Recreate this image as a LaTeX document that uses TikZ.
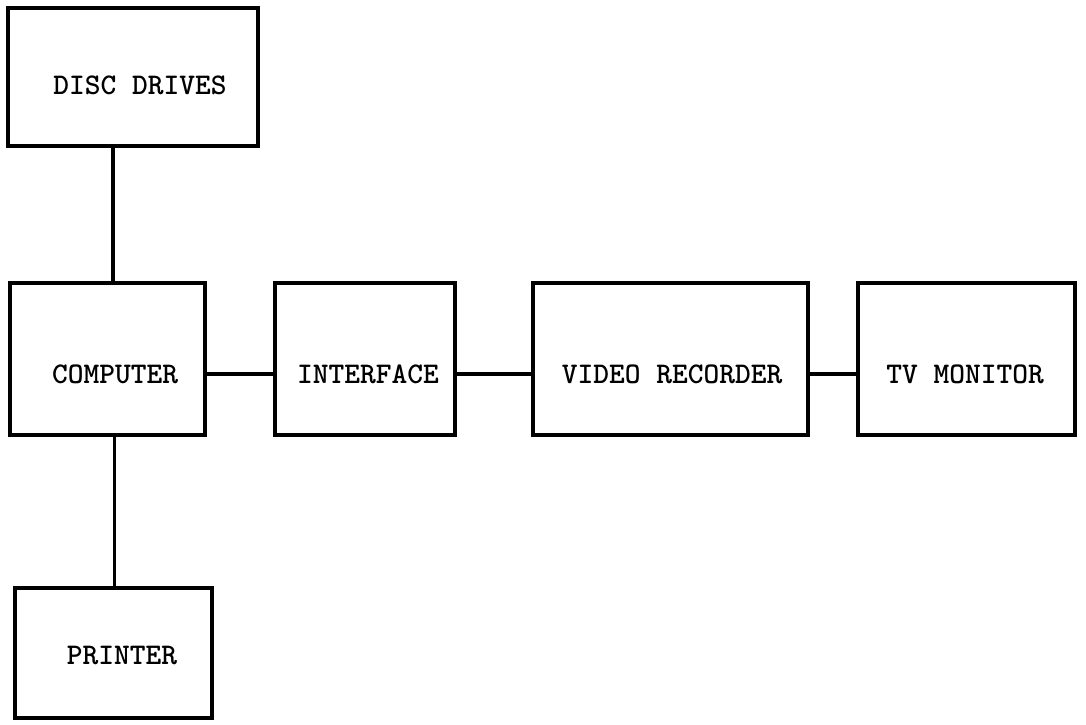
\documentclass[tikz,border=0pt]{standalone}
\usepackage{fontspec}
\begin{document}
\begin{tikzpicture}[x=1pt,y=-1pt,
  box/.style={draw=black,line width=3.4pt,inner sep=0pt,outer sep=0pt},
  lbl/.style={font=\ttfamily\bfseries\fontsize{30}{30}\selectfont,inner sep=0pt},
  wire/.style={line width=3.4pt}]
\useasboundingbox (0,0) rectangle (1086,724);
% boxes
\node[box,minimum width=250pt,minimum height=138pt] (dd) at (133,77) {};
\node[box,minimum width=195pt,minimum height=152pt] (comp) at (107.5,359) {};
\node[box,minimum width=180pt,minimum height=152pt] (int) at (365,359) {};
\node[box,minimum width=275pt,minimum height=152pt] (vr) at (670.5,359) {};
\node[box,minimum width=217pt,minimum height=152pt] (tv) at (966.5,359) {};
\node[box,minimum width=197pt,minimum height=130pt] (pr) at (113.5,653) {};
% labels
\node[lbl] (tdd) at (140,85) {DISC DRIVES};
\node[lbl] (tcomp) at (115,374) {COMPUTER};
\node[lbl] (tint) at (368,374) {INTERFACE};
\node[lbl] (tvr) at (672,374) {VIDEO RECORDER};
\node[lbl] (ttv) at (965,374) {TV MONITOR};
\node[lbl] (tpr) at (122,655) {PRINTER};
% connectors
\draw[wire] (dd.south) ++(-20,0) coordinate (ddb) -- (ddb |- comp.north);
\draw[wire] (comp.south) ++(7,0) coordinate (compb) -- (compb |- pr.north);
\draw[wire] (comp.east |- tcomp) -- (int.west |- tcomp);
\draw[wire] (int.east |- tint) -- (vr.west |- tint);
\draw[wire] (vr.east |- tvr) -- (tv.west |- tvr);
\end{tikzpicture}
\end{document}
